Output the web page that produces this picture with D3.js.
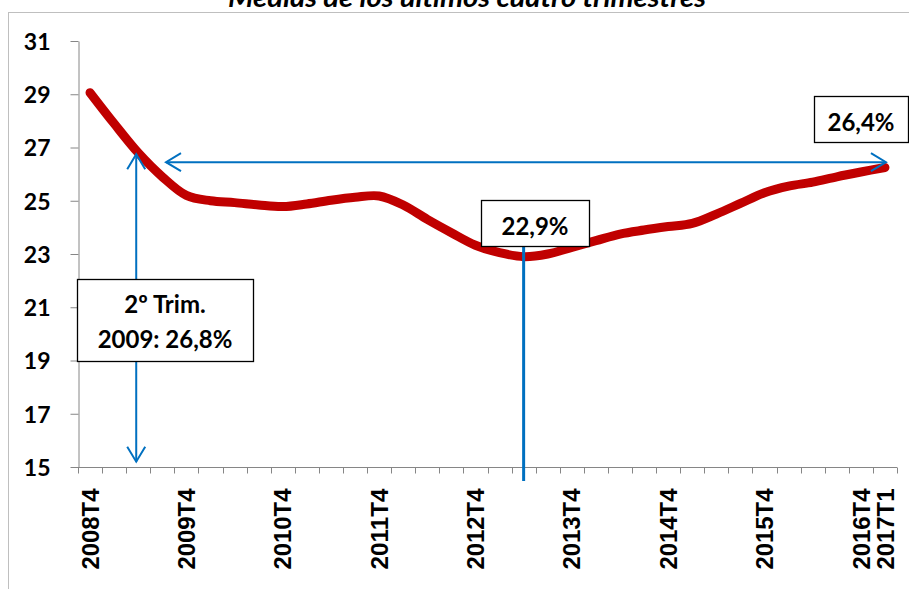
<!DOCTYPE html>
<html>
  <head>
    <meta charset="utf-8">
    <title></title>
    <style>
      body, html{
        margin: 0;
        width: 100%;
        height: 100%;
        background: #fff;
      }
      svg{
        display: block;
      }
      .ylab text{
        font-family: Lato, "Open Sans", sans-serif;
        font-weight: 700;
        font-size: 23px;
        fill: #000;
      }
      .xlab text{
        font-family: "Liberation Sans", Arial, sans-serif;
        font-weight: 700;
        font-size: 24px;
        fill: #000;
      }
      .box text{
        font-family: Lato, "Open Sans", sans-serif;
        font-weight: 700;
        font-size: 24px;
        fill: #000;
      }
    </style>
  </head>
  <body>
    <script src="https://cdn.jsdelivr.net/npm/d3@7"></script>
    <script>

var categories = ['2008T4',
  '2009T1', '2009T2', '2009T3', '2009T4',
  '2010T1', '2010T2', '2010T3', '2010T4',
  '2011T1', '2011T2', '2011T3', '2011T4',
  '2012T1', '2012T2', '2012T3', '2012T4',
  '2013T1', '2013T2', '2013T3', '2013T4',
  '2014T1', '2014T2', '2014T3', '2014T4',
  '2015T1', '2015T2', '2015T3', '2015T4',
  '2016T1', '2016T2', '2016T3', '2016T4',
  '2017T1']
// medias moviles de cuatro trimestres (%)
var values = [29.06, 27.9, 26.8, 25.9, 25.2,
  25.0, 24.93, 24.84, 24.78,
  24.88, 25.02, 25.13, 25.18,
  24.84, 24.3, 23.8, 23.33,
  23.05, 22.9, 23.0, 23.25,
  23.5, 23.75, 23.9, 24.03,
  24.15, 24.5, 24.9, 25.3,
  25.55, 25.7, 25.9, 26.08,
  26.25]
var yTicks = [15, 17, 19, 21, 23, 25, 27, 29, 31]
var xLabels = ['2008T4', '2009T4', '2010T4', '2011T4', '2012T4', '2013T4', '2014T4', '2015T4', '2016T4', '2017T1']
var title = 'Medias de los últimos cuatro trimestres'

var width = 909, height = 589
var blue = '#0070C0', red = '#C00000', grey = '#868686'

var svg = d3.select('body').append('svg').attr('width', width).attr('height', height)

// marco del grafico
svg.append('rect')
  .attr('x', 8.5).attr('y', 12.5).attr('width', 920).attr('height', 600)
  .attr('fill', 'none').attr('stroke', '#BFBFBF')

// el titulo queda cortado arriba, como en el original
svg.append('text')
  .attr('x', 467).attr('y', 7)
  .attr('text-anchor', 'middle')
  .attr('textLength', 478).attr('lengthAdjust', 'spacingAndGlyphs')
  .style('font-family', 'Lato, sans-serif')
  .style('font-weight', 700).style('font-style', 'italic')
  .style('font-size', '27px')
  .text(title)

var x = d3.scaleBand().domain(categories).range([78, 897])
var y = d3.scaleLinear().domain([15, 31]).range([467, 41])
var cx = function(c){ return x(c) + x.bandwidth() / 2 }

// eje Y
var gy = svg.append('g').attr('class', 'ylab').attr('transform', 'translate(78.5,0)')
  .call(d3.axisLeft(y).tickValues(yTicks).tickSize(8).tickPadding(20).tickSizeOuter(0))
gy.selectAll('path, line').attr('stroke', grey)
gy.selectAll('text').attr('dy', '0.36em')

// eje X
var gx = svg.append('g').attr('class', 'xlab').attr('transform', 'translate(0,467.5)')
gx.append('line').attr('x1', 78).attr('x2', 897).attr('stroke', grey)
gx.selectAll('line.tk').data(categories.concat(['end'])).enter().append('line')
  .attr('class', 'tk')
  .attr('x1', function(d, i){ return Math.round(78 + i * x.step()) + 0.5 })
  .attr('x2', function(d, i){ return Math.round(78 + i * x.step()) + 0.5 })
  .attr('y1', 0).attr('y2', 6).attr('stroke', grey)
gx.selectAll('text').data(xLabels).enter().append('text')
  .attr('transform', function(d){ return 'translate(' + cx(d) + ',0) rotate(-90)' })
  .attr('x', -21).attr('dy', '0.36em')
  .attr('text-anchor', 'end')
  .attr('textLength', 81).attr('lengthAdjust', 'spacingAndGlyphs')
  .text(function(d){ return d })

// serie
var line = d3.line()
  .x(function(d, i){ return cx(categories[i]) })
  .y(function(d){ return y(d) })
  .curve(d3.curveCatmullRom.alpha(0.5))
svg.append('path').datum(values)
  .attr('d', line)
  .attr('fill', 'none').attr('stroke', red)
  .attr('stroke-width', 9).attr('stroke-linecap', 'round').attr('stroke-linejoin', 'round')

// anotaciones
function arrowHead(g, x0, y0, dx, dy){
  // punta abierta, dx/dy = direccion
  var l = 15, w = 9
  var px = -dy, py = dx
  g.append('path')
    .attr('d', 'M' + (x0 - dx * l + px * w) + ',' + (y0 - dy * l + py * w) +
      'L' + x0 + ',' + y0 +
      'L' + (x0 - dx * l - px * w) + ',' + (y0 - dy * l - py * w))
    .attr('fill', 'none').attr('stroke', blue).attr('stroke-width', 2)
}
var ann = svg.append('g')

// flecha horizontal
var hy = y(26.45), hx0 = 166, hx1 = cx('2017T1') + 1
ann.append('line').attr('x1', hx0).attr('x2', hx1).attr('y1', hy).attr('y2', hy)
  .attr('stroke', blue).attr('stroke-width', 2)
arrowHead(ann, hx0, hy, -1, 0)
arrowHead(ann, hx1, hy, 1, 0)

// flecha vertical
var vx = cx('2009T2') - 2, vy0 = y(26.75), vy1 = y(15.2)
ann.append('line').attr('x1', vx).attr('x2', vx).attr('y1', vy0).attr('y2', vy1)
  .attr('stroke', blue).attr('stroke-width', 2)
arrowHead(ann, vx, vy0, 0, -1)
arrowHead(ann, vx, vy1, 0, 1)

// linea del minimo
var mx = cx('2013T2')
ann.append('line').attr('x1', mx).attr('x2', mx).attr('y1', 246).attr('y2', 481)
  .attr('stroke', blue).attr('stroke-width', 3)

function box(x0, y0, w, h, lines, baselines){
  var g = svg.append('g').attr('class', 'box')
  g.append('rect').attr('x', x0 + 0.5).attr('y', y0 + 0.5).attr('width', w).attr('height', h)
    .attr('fill', '#fff').attr('stroke', '#000').attr('stroke-width', 1.3)
  lines.forEach(function(t, i){
    g.append('text').attr('x', x0 + w / 2).attr('y', baselines[i])
      .attr('text-anchor', 'middle').text(t)
  })
}
box(77, 279, 176, 82, ['2º Trim.', '2009: 26,8%'], [313, 348])
box(481, 200, 108, 46, ['22,9%'], [235])
box(814, 96, 94, 46, ['26,4%'], [131])

    </script>
  </body>
</html>
